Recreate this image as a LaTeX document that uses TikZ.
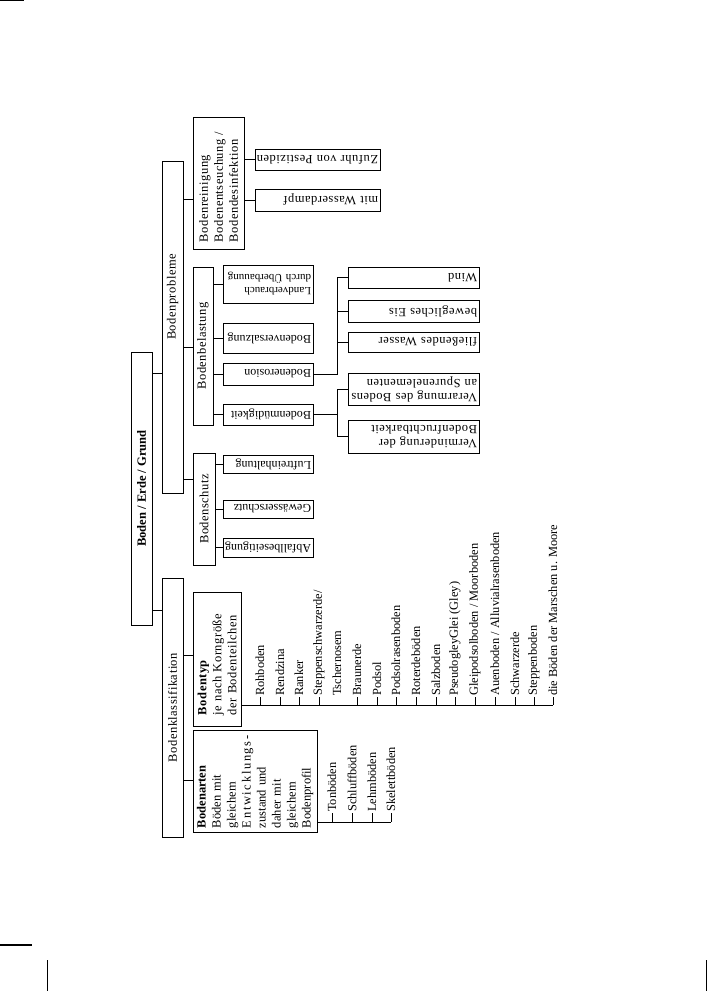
\documentclass[tikz,border=0pt]{standalone}
\usepackage{fontspec}
\setmainfont{Liberation Serif}
\newfontfamily\lsf[LetterSpace=4]{Liberation Serif}
\begin{document}
\begin{tikzpicture}[x=1pt,y=1pt,
  ln/.style={line width=0.9pt},
  box/.style={draw, line width=0.9pt, inner sep=2pt, font=\lsf\fontsize{12.5}{15}\selectfont},
  vbox/.style={box, rotate=90},
  ubox/.style={box, rotate=180, align=left},
  sbox/.style={ubox, minimum width=90, text width=86, font=\fontsize{12}{14}\selectfont},
  item/.style={rotate=90, anchor=west, inner sep=1pt, font=\fontsize{12.4}{14}\selectfont},
]
\useasboundingbox (0,0) rectangle (711,-991);
% crop marks
\draw[line width=1.2pt] (0,-0.6) -- (24,-0.6);
\draw[line width=1.2pt] (0,-945) -- (32,-945);
\draw[line width=1pt] (47,-960) -- (47,-991);
\draw[line width=1pt] (706,-960) -- (706,-991);

% level 0
\node[vbox, minimum width=273, minimum height=21, font=\fontsize{12.6}{15}\selectfont\bfseries] (root) at (141.5,-488.5) {Boden / Erde / Grund};
% level 1
\node[vbox, minimum width=332, minimum height=21] (prob) at (172.5,-327) {};
\node[rotate=90, inner sep=0pt, font=\lsf\fontsize{12.5}{15}\selectfont] (probt) at (172.5,-297) {Bodenprobleme};
\node[vbox, minimum width=259, minimum height=21] (klass) at (172.5,-707.5) {Bodenklassifikation};
\draw[ln] (root.south |- 0,-373) -- (prob.north |- 0,-373);
\draw[ln] (root.south |- 0,-610) -- (klass.north |- 0,-610);

% level 2
\node[vbox, minimum width=132, minimum height=51, align=left, text width=118] (rein) at (218.5,-183) {Bodenreinigung\\Bodenentseuchung /\\Bodendesinfektion};
\node[vbox, minimum width=158, minimum height=20] (bel) at (203,-346) {Bodenbelastung};
\node[vbox, minimum width=112, minimum height=22] (schutz) at (204,-509) {Bodenschutz};
\node[vbox, minimum width=134, minimum height=48, align=left, text width=112] (typ) at (217,-659) {\textbf{Bodentyp}\\je nach Korngröße\\der Bodenteilchen};
\node[vbox, minimum width=102, minimum height=124, align=left, text width=94, font=\fontsize{12.5}{15}\selectfont] (arten) at (255,-781) {\textbf{Bodenarten}\\Böden mit\\gleichem\\{\addfontfeature{LetterSpace=13}Entwicklungs-}\\zustand und\\daher mit\\gleichem\\Bodenprofil};
\draw[ln] (prob.south |- 0,-199) -- (rein.north |- 0,-199);
\draw[ln] (prob.south |- 0,-347) -- (bel.north |- 0,-347);
\draw[ln] (prob.south |- 0,-479) -- (schutz.north |- 0,-479);
\draw[ln] (klass.south |- 0,-655) -- (typ.north |- 0,-655);
\draw[ln] (klass.south |- 0,-780) -- (arten.north |- 0,-780);

% Bodenreinigung children
\node[ubox, minimum width=125, minimum height=21, text width=121] (pest) at (317.5,-159.5) {\mbox{Zufuhr von Pestiziden}};
\node[ubox, minimum width=125, minimum height=22, text width=121] (dampf) at (317.5,-200) {mit Wasserdampf};
\draw[ln] (rein.south |- pest.east) -- (pest.east);
\draw[ln] (rein.south |- dampf.east) -- (dampf.east);

% Bodenbelastung children
\node[sbox, minimum height=38, font=\fontsize{11}{13}\selectfont] (land) at (268,-284) {Landverbrauch\\\mbox{durch Überbauung}};
\node[sbox, minimum height=30] (salz) at (268,-338) {\mbox{Bodenversalzung}};
\node[sbox, minimum height=22] (eros) at (268,-374) {Bodenerosion};
\node[sbox, minimum height=21] (mued) at (268,-414.5) {\mbox{Bodenmüdigkeit}};
\foreach \n in {land,salz,eros,mued} \draw[ln] (bel.south |- \n.east) -- (\n.east);

% Bodenschutz children
\node[sbox, minimum height=18] (luft) at (268,-464) {\mbox{Luftreinhaltung}};
\node[sbox, minimum height=18] (gew) at (268,-509) {\mbox{Gewässerschutz}};
\node[sbox, minimum height=19] (abf) at (268,-547.5) {\mbox{Abfallbeseitigung}};
\foreach \n in {luft,gew,abf} \draw[ln] (schutz.south |- \n.east) -- (\n.east);

% Erosion children
\node[ubox, minimum width=131, minimum height=21, text width=127] (wind) at (413.5,-277.5) {Wind};
\node[ubox, minimum width=131, minimum height=22, text width=127] (eis) at (413.5,-311) {bewegliches Eis};
\node[ubox, minimum width=131, minimum height=20, text width=127] (wasser) at (413.5,-342) {fließendes Wasser};
\coordinate (ej) at (337,-374);
\draw[ln] (eros.west) -- (ej |- eros.west) |- (wind.east);
\draw[ln] (ej |- eis.east) -- (eis.east);
\draw[ln] (ej |- wasser.east) -- (wasser.east);

% Muedigkeit children
\node[ubox, minimum width=131, minimum height=32, text width=127, font=\lsf\fontsize{12.5}{14}\selectfont] (verarm) at (413.5,-389) {\mbox{Verarmung des Bodens}\\an Spurenelementen};
\node[ubox, minimum width=131, minimum height=33, text width=127, font=\lsf\fontsize{12.5}{14}\selectfont] (vermind) at (413.5,-436.5) {Verminderung der\\Bodenfruchtbarkeit};
\coordinate (mj) at (337,-414.5);
\draw[ln] (mued.west) -- (mj |- mued.west);
\draw[ln] (verarm.east) -| (mj |- vermind.east) -- (vermind.east);

% Bodentyp list
\coordinate (tb) at (553,-705);
\draw[ln] (typ.south |- tb) -- (tb);
\foreach \nm/\x/\t in {t1/260/{Rohboden}, t2/280/{Rendzina}, t3/299/{Ranker}, t4/319/{Steppenschwarzerde/}, t6/357/{Braunerde}, t7/377/{Podsol}, t8/396/{Podsolrasenboden}, t9/416/{Roterdeböden}, t10/436/{Salzboden}, t11/455/{PseudogleyGlei (Gley)}, t12/475/{Gleipodsolboden / Moorboden}, t13/495/{Auenboden / Alluvialrasenboden}, t14/515/{Schwarzerde}, t15/534/{Steppenboden}, t16/553/{die Böden der Marschen u. Moore}} {
  \node[item] (\nm) at (\x,-697) {\t};
  \draw[ln] (\nm.west) -- (\nm.west |- tb);
}
\node[item] (t5) at (337,-697) {Tschernosem};

% Bodenarten list
\coordinate (ab) at (391,-822);
\draw[ln] (arten.south |- ab) -- (ab);
\foreach \nm/\x/\t in {a1/332/Tonböden, a2/352/Schluffböden, a3/372/Lehmböden, a4/391/Skelettböden} {
  \node[item] (\nm) at (\x,-813) {\t};
  \draw[ln] (\nm.west) -- (\nm.west |- ab);
}
\end{tikzpicture}
\end{document}
